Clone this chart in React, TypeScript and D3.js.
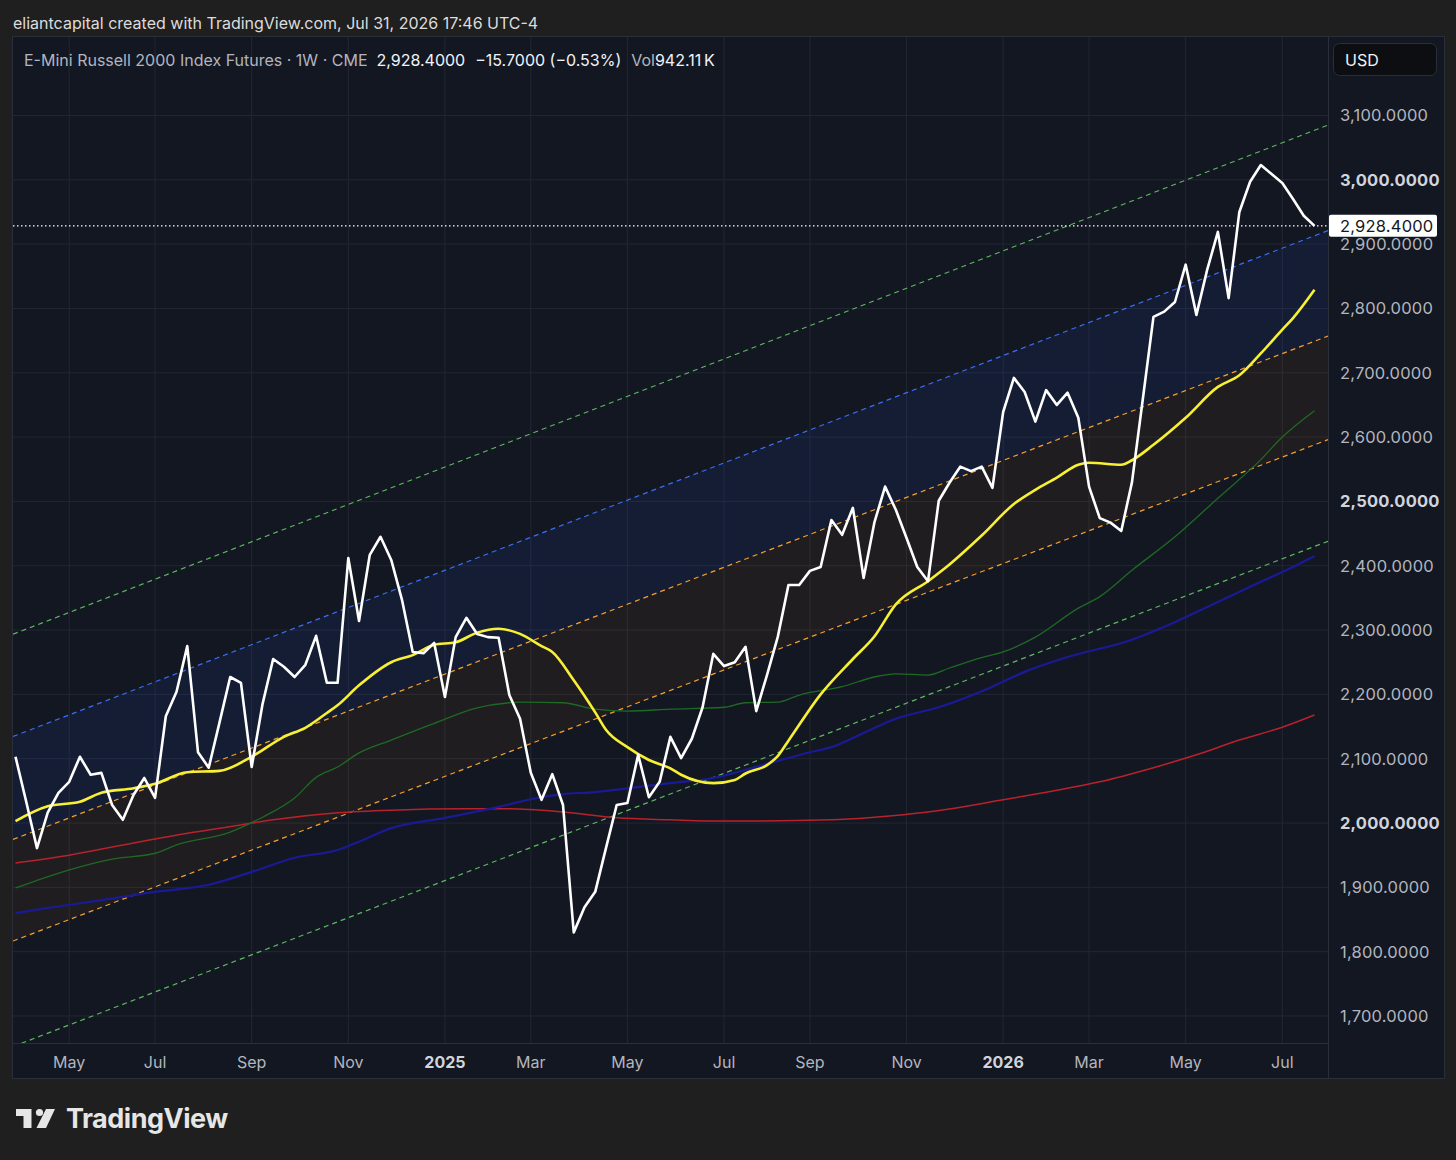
import { useEffect, useRef } from "react";
import * as d3 from "d3";

// weekly closes, index 0 = first visible bar (late Mar 2024), last = Jul 27 2026
const CLOSES = [
  2103, 2033, 1961, 2016, 2047, 2064, 2103, 2075, 2078, 2028,
  2005, 2044, 2070, 2039, 2166, 2204, 2275, 2110, 2086, 2156,
  2227, 2218, 2087, 2184, 2255, 2243, 2227, 2246, 2291, 2218,
  2218, 2412, 2314, 2417, 2445, 2409, 2347, 2266, 2264, 2280,
  2196, 2289, 2319, 2294, 2289, 2288, 2199, 2162, 2078, 2036,
  2076, 2028, 1830, 1869, 1893, 1961, 2028, 2031, 2106, 2040,
  2064, 2134, 2101, 2131, 2180, 2263, 2244, 2250, 2274, 2174,
  2230, 2289, 2370, 2370, 2392, 2398, 2471, 2448, 2490, 2381,
  2467, 2523, 2487, 2443, 2398, 2376, 2501, 2529, 2554, 2547,
  2554, 2521, 2639, 2692, 2670, 2624, 2673, 2650, 2669, 2630,
  2523, 2474, 2467, 2454, 2530, 2658, 2787, 2795, 2810, 2868,
  2790, 2860, 2919, 2816, 2950, 2997, 3023, 3009, 2995, 2970,
  2944.1, 2928.4,
];

// moving averages, read as [bar index, value]
const MA_YELLOW: [number, number][] = [
  [0, 2003], [3, 2026], [6, 2033], [8, 2047], [11, 2054], [13, 2061], [16, 2079], [19, 2081],
  [22, 2103], [25, 2134], [27, 2148], [29, 2171], [30, 2183], [32, 2214], [35, 2250], [37, 2261],
  [39, 2277], [41, 2281], [43, 2296], [45, 2302], [47, 2294], [49, 2275], [50, 2266], [52, 2222],
  [54, 2172], [55, 2145], [57, 2118], [59, 2098], [61, 2085], [62, 2075], [65, 2062], [67, 2067],
  [68, 2077], [70, 2090], [71, 2104], [72, 2128], [75, 2200], [78, 2255], [80, 2290], [82, 2340],
  [85, 2376], [87, 2402], [90, 2447], [93, 2496], [95, 2518], [97, 2537], [99, 2557], [100, 2560],
  [103, 2557], [104, 2564], [106, 2588], [109, 2630], [112, 2678], [114, 2696], [116, 2730],
  [118, 2767], [119, 2785], [121, 2829],
];

const MA_GREEN: [number, number][] = [
  [0, 1899], [2, 1911], [6, 1932], [9, 1944], [13, 1953], [15, 1966], [20, 1986], [23, 2009],
  [26, 2039], [28, 2071], [30, 2087], [32, 2109], [35, 2129], [39, 2155], [43, 2179], [46, 2187],
  [47, 2188], [51, 2187], [54, 2177], [57, 2174], [61, 2177], [66, 2180], [68, 2187], [71, 2188],
  [73, 2199], [77, 2212], [80, 2227], [82, 2232], [85, 2230], [87, 2241], [90, 2257], [92, 2266],
  [95, 2289], [99, 2334], [101, 2352], [104, 2393], [108, 2445], [112, 2505], [116, 2565],
  [118, 2600], [121, 2641],
];

const MA_BLUE: [number, number][] = [
  [0, 1860], [3, 1868], [8, 1880], [13, 1893], [18, 1904], [22, 1924], [26, 1946], [30, 1958],
  [32, 1971], [35, 1992], [40, 2008], [45, 2025], [48, 2037], [51, 2045], [54, 2048], [57, 2054],
  [61, 2062], [65, 2070], [70, 2092], [74, 2110], [76, 2118], [79, 2140], [82, 2162], [86, 2180],
  [91, 2212], [94, 2235], [98, 2258], [104, 2285], [107, 2305], [111, 2336], [116, 2375],
  [119, 2398], [121, 2415],
];

const MA_RED: [number, number][] = [
  [0, 1938], [5, 1950], [11, 1969], [16, 1984], [21, 1997], [24, 2005], [30, 2016], [35, 2020],
  [42, 2022], [46, 2022], [51, 2017], [56, 2008], [61, 2005], [66, 2003], [76, 2005], [80, 2009],
  [85, 2017], [92, 2036], [96, 2048], [101, 2064], [106, 2086], [110, 2106], [114, 2129],
  [118, 2149], [121, 2168],
];

// regression channel lines (top to bottom): value at bar 0 and at bar 121
const CHANNEL_START = [2295, 2136, 1976, 1818, 1654];
const CHANNEL_END = [3077, 2913, 2749, 2588, 2430];
const CHANNEL_COLORS = ["#5cb85f", "#3a6df0", "#f5a02c", "#f5a02c", "#5cb85f"];

const PRICE_TICKS = [1700, 1800, 1900, 2000, 2100, 2200, 2300, 2400, 2500, 2600, 2700, 2800, 2900, 3000, 3100];
const BOLD_PRICES = [2000, 2500, 3000];

const TIME_TICKS: { i: number; label: string; bold?: boolean }[] = [
  { i: 5, label: "May" }, { i: 13, label: "Jul" }, { i: 22, label: "Sep" }, { i: 31, label: "Nov" },
  { i: 40, label: "2025", bold: true }, { i: 48, label: "Mar" }, { i: 57, label: "May" },
  { i: 66, label: "Jul" }, { i: 74, label: "Sep" }, { i: 83, label: "Nov" },
  { i: 92, label: "2026", bold: true }, { i: 100, label: "Mar" }, { i: 109, label: "May" },
  { i: 118, label: "Jul" },
];

const LAST = 2928.4;
const FONT = "Inter, 'Noto Sans', sans-serif";

export default function App() {
  const svgRef = useRef<SVGSVGElement>(null);

  useEffect(() => {
    if (!svgRef.current) return;
    const svg = d3.select(svgRef.current);
    svg.selectAll("*").remove();

    const W = 1456, H = 1160;
    const plot = { left: 13, right: 1328, top: 37, bottom: 1043 };

    const x = d3.scaleLinear().domain([0, CLOSES.length - 1]).range([15.5, 1314.5]);
    const y = d3.scaleLinear().domain([1658, 3222]).range([plot.bottom, plot.top]);

    // background
    svg.append("rect").attr("width", W).attr("height", H).attr("fill", "#1f1f1f");
    svg.append("rect")
      .attr("x", 12.5).attr("y", 36.5).attr("width", 1432).attr("height", 1042)
      .attr("fill", "#131722").attr("stroke", "#2a2e39");

    svg.append("text")
      .attr("x", 13).attr("y", 23).attr("dominant-baseline", "central")
      .attr("fill", "#dcdcdc").attr("font-size", 16).attr("font-family", FONT)
      .text("eliantcapital created with TradingView.com, Jul 31, 2026 17:46 UTC-4");

    svg.append("defs").append("clipPath").attr("id", "plotClip")
      .append("rect")
      .attr("x", plot.left).attr("y", plot.top)
      .attr("width", plot.right - plot.left).attr("height", plot.bottom - plot.top);

    // grid
    const grid = svg.append("g");
    PRICE_TICKS.forEach((p) => {
      grid.append("line")
        .attr("x1", plot.left).attr("x2", plot.right)
        .attr("y1", y(p)).attr("y2", y(p))
        .attr("stroke", "#232733").attr("stroke-width", 1);
    });
    TIME_TICKS.forEach((t) => {
      grid.append("line")
        .attr("x1", x(t.i)).attr("x2", x(t.i))
        .attr("y1", plot.top).attr("y2", plot.bottom)
        .attr("stroke", "#232733").attr("stroke-width", 1);
    });

    const g = svg.append("g").attr("clip-path", "url(#plotClip)");

    // channel
    const i0 = x.invert(plot.left);
    const i1 = x.invert(plot.right);
    const n = CLOSES.length - 1;
    const chan = (k: number, i: number) => CHANNEL_START[k] + ((CHANNEL_END[k] - CHANNEL_START[k]) * i) / n;
    const band = (a: number, b: number, fill: string) => {
      const pts: [number, number][] = [
        [x(i0), y(chan(a, i0))], [x(i1), y(chan(a, i1))],
        [x(i1), y(chan(b, i1))], [x(i0), y(chan(b, i0))],
      ];
      g.append("polygon").attr("points", pts.map((p) => p.join(",")).join(" ")).attr("fill", fill);
    };
    band(1, 2, "rgba(41,98,255,0.085)");
    band(2, 3, "rgba(255,152,0,0.055)");

    CHANNEL_START.forEach((_, k) => {
      g.append("line")
        .attr("x1", x(i0)).attr("y1", y(chan(k, i0)))
        .attr("x2", x(i1)).attr("y2", y(chan(k, i1)))
        .attr("stroke", CHANNEL_COLORS[k]).attr("stroke-width", 1.2)
        .attr("stroke-dasharray", "5,4");
    });

    // moving averages
    const maLine = d3.line<[number, number]>()
      .x((d) => x(d[0])).y((d) => y(d[1]))
      .curve(d3.curveMonotoneX);
    const drawMA = (data: [number, number][], color: string, w: number) => {
      g.append("path").attr("d", maLine(data)!).attr("fill", "none")
        .attr("stroke", color).attr("stroke-width", w);
    };
    drawMA(MA_RED, "#b8222c", 1.5);
    drawMA(MA_BLUE, "#1a1a96", 2.2);
    drawMA(MA_GREEN, "#1e6a24", 1.3);
    drawMA(MA_YELLOW, "#f8f034", 2.6);

    // price line
    const priceLine = d3.line<number>().x((_, i) => x(i)).y((d) => y(d));
    g.append("path").attr("d", priceLine(CLOSES)!).attr("fill", "none")
      .attr("stroke", "#ffffff").attr("stroke-width", 2.6).attr("stroke-linejoin", "round");

    // last price dotted line
    g.append("line")
      .attr("x1", plot.left).attr("x2", plot.right)
      .attr("y1", y(LAST)).attr("y2", y(LAST))
      .attr("stroke", "#ffffff").attr("stroke-width", 1.3).attr("stroke-dasharray", "1.5,2.5");

    // axis separators
    svg.append("line").attr("x1", plot.right + 0.5).attr("x2", plot.right + 0.5)
      .attr("y1", 37).attr("y2", 1078).attr("stroke", "#2a2e39");
    svg.append("line").attr("x1", 13).attr("x2", plot.right)
      .attr("y1", plot.bottom + 0.5).attr("y2", plot.bottom + 0.5).attr("stroke", "#2a2e39");

    // price axis labels
    PRICE_TICKS.forEach((p) => {
      const bold = BOLD_PRICES.includes(p);
      svg.append("text")
        .attr("x", 1340).attr("y", y(p)).attr("dominant-baseline", "central")
        .attr("fill", bold ? "#d1d4dc" : "#b2b5be")
        .attr("font-size", 16.5).attr("font-weight", bold ? 700 : 400)
        .attr("letter-spacing", 0.2)
        .attr("font-family", FONT)
        .text(d3.format(",.4f")(p));
    });

    // last price tag
    svg.append("rect").attr("x", 1329).attr("y", y(LAST) - 11).attr("width", 108).attr("height", 22)
      .attr("rx", 2).attr("fill", "#ffffff");
    svg.append("text")
      .attr("x", 1340).attr("y", y(LAST)).attr("dominant-baseline", "central")
      .attr("fill", "#131722").attr("font-size", 16.5).attr("letter-spacing", 0.2)
      .attr("font-family", FONT)
      .text(d3.format(",.4f")(LAST));

    // currency box
    svg.append("rect").attr("x", 1333.5).attr("y", 43.5).attr("width", 103).attr("height", 32)
      .attr("rx", 6).attr("fill", "#0d0e12").attr("stroke", "#2a2e39");
    svg.append("text").attr("x", 1345).attr("y", 60).attr("dominant-baseline", "central")
      .attr("fill", "#f0f3fa").attr("font-size", 16).attr("font-family", FONT).text("USD");

    // time axis labels
    TIME_TICKS.forEach((t) => {
      svg.append("text")
        .attr("x", x(t.i)).attr("y", 1062).attr("text-anchor", "middle")
        .attr("dominant-baseline", "central")
        .attr("fill", t.bold ? "#d1d4dc" : "#b2b5be")
        .attr("font-size", 16).attr("font-weight", t.bold ? 700 : 400)
        .attr("font-family", FONT)
        .text(t.label);
    });

    // legend
    const legend = svg.append("text")
      .attr("x", 24).attr("y", 60).attr("dominant-baseline", "central")
      .attr("font-size", 16).attr("font-family", FONT);
    legend.append("tspan").attr("fill", "#b2b5be").text("E-Mini Russell 2000 Index Futures · 1W · CME");
    legend.append("tspan").attr("dx", 9).attr("fill", "#f0f3fa").text("2,928.4000");
    legend.append("tspan").attr("dx", 10).attr("fill", "#f0f3fa").text("\u221215.7000 (\u22120.53%)");
    legend.append("tspan").attr("dx", 10).attr("fill", "#b2b5be").text("Vol");
    legend.append("tspan").attr("fill", "#f0f3fa").text("942.11\u2009K");

    // TradingView logo
    const logo = svg.append("g").attr("fill", "#e6e6e6");
    logo.append("polygon").attr("points", "16,1109 31.5,1109 31.5,1128 23.5,1128 23.5,1116 16,1116");
    logo.append("circle").attr("cx", 39.5).attr("cy", 1112.5).attr("r", 3.6);
    logo.append("polygon").attr("points", "46,1109 55,1109 46,1128 36.5,1128");
    logo.append("text")
      .attr("x", 66).attr("y", 1128)
      .attr("font-size", 27).attr("font-weight", 700).attr("font-family", FONT)
      .attr("letter-spacing", -0.5)
      .text("TradingView");
  }, []);

  return (
    <svg
      ref={svgRef}
      width={1456}
      height={1160}
      style={{ position: "absolute", left: 0, top: 0, display: "block" }}
    />
  );
}
